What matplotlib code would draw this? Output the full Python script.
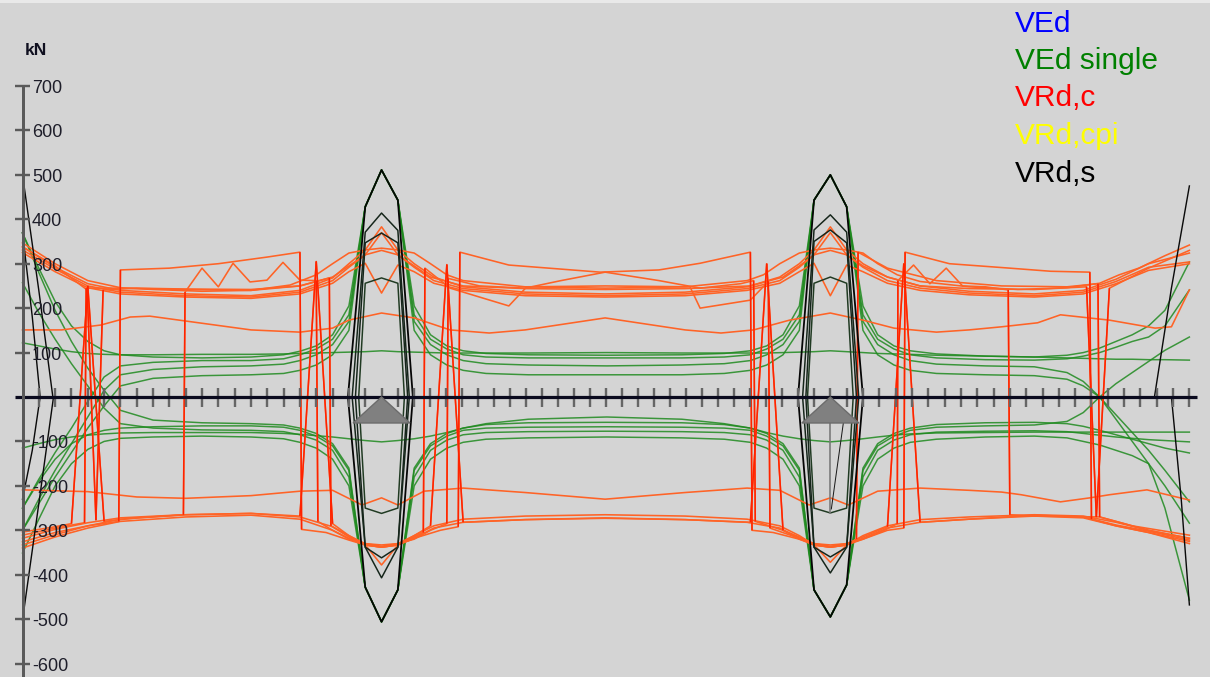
import matplotlib
matplotlib.use("Agg")
import matplotlib.pyplot as plt
from matplotlib.patches import Polygon, Rectangle
from matplotlib.collections import LineCollection

plt.rcParams['font.family'] = ['Liberation Sans', 'DejaVu Sans']

# ---------------- beam geometry (m) ----------------
support_x = [0.0, 11.0, 24.75, 35.75]
elements_per_span = [22, 28, 22]

y_tick_values = [700, 600, 500, 400, 300, 200, 100, -100, -200, -300, -400, -500, -600]
y_unit = "kN"

legend_labels = ["VEd", "VEd single", "VRd,c", "VRd,cpi", "VRd,s"]
legend_colors = ["#0000ff", "#008000", "#ff0000", "#ffff00", "#000000"]

# ---------------- VEd single (kN) at stations ----------------
ved_x = [0, 0.5, 1.0, 1.5, 2.0, 2.5, 3.0, 4.0, 5.5, 7.0, 8.0, 8.5, 9.0, 9.5, 10.0, 10.5,
         11.0, 11.5, 12.0, 12.5, 13.0, 13.5, 14.2, 15.5, 17.9, 20.2, 21.5, 22.3, 22.8,
         23.3, 23.8, 24.25, 24.75, 25.25, 25.75, 26.2, 26.7, 27.2, 28.0, 29.5, 31.0,
         32.0, 32.5, 33.0, 33.5, 34.0, 34.5, 35.0, 35.75]

ved_pos_1 = [369, 290, 215, 160, 125, 104, 95, 90, 88, 90, 95, 103, 115, 140, 205, 428,
             511, 443, 205, 140, 115, 104, 98, 95, 94, 95, 98, 104, 115, 140, 205, 443,
             500, 428, 205, 140, 115, 104, 97, 92, 90, 94, 100, 110, 125, 140, 160, 195, 304]
ved_pos_2 = [-250, -185, -125, -70, -10, 45, 70, 78, 82, 82, 86, 95, 108, 130, 185, 428,
             511, 443, 185, 130, 108, 95, 90, 88, 88, 88, 90, 95, 108, 130, 185, 443,
             500, 428, 185, 130, 108, 95, 88, 84, 83, 86, 92, 100, 112, 125, 135, 160, 241]
ved_pos_3 = [122, 115, 108, 102, 98, 96, 95, 95, 96, 96, 97, 98, 99, 100, 101, 102,
             104, 102, 101, 100, 99, 99, 99, 99, 100, 99, 99, 99, 99, 100, 101, 102,
             104, 102, 100, 98, 97, 96, 94, 92, 90, 88, 87, 86, 85, 85, 84, 84, 83]
ved_pos_4 = [-300, -230, -165, -105, -45, 15, 50, 62, 68, 70, 74, 82, 95, 118, 170, 428,
             511, 443, 170, 118, 95, 82, 75, 72, 70, 72, 75, 82, 95, 118, 170, 443,
             500, 428, 170, 118, 95, 82, 74, 70, 68, 55, 35, 0, -40, -80, -120, -165, -236]
ved_pos_5 = [-300, -240, -180, -125, -70, -20, 25, 42, 48, 50, 53, 60, 72, 95, 150, 428,
             511, 443, 150, 95, 72, 60, 53, 50, 50, 50, 53, 60, 72, 95, 150, 443,
             500, 428, 150, 95, 72, 60, 53, 50, 48, 40, 25, 0, -50, -100, -150, -200, -284]
ved_neg_1 = [-351, -275, -200, -150, -118, -100, -93, -90, -88, -90, -94, -102, -115, -140, -200, -428,
             -506, -434, -200, -140, -115, -102, -95, -92, -90, -92, -95, -102, -115, -140, -200, -434,
             -495, -423, -200, -140, -115, -102, -95, -90, -88, -92, -100, -108, -120, -132, -150, -250, -457]
ved_neg_2 = [-115, -105, -96, -90, -86, -83, -81, -80, -80, -80, -82, -84, -87, -90, -94, -98,
             -101, -98, -94, -88, -80, -70, -60, -50, -45, -50, -60, -70, -80, -88, -94, -98,
             -101, -98, -94, -90, -86, -83, -81, -80, -79, -79, -79, -79, -79, -79, -79, -79, -79]
ved_neg_3 = [257, 190, 130, 75, 25, -25, -60, -70, -74, -75, -78, -85, -97, -120, -180, -428,
             -506, -434, -180, -120, -97, -85, -80, -78, -77, -78, -80, -85, -97, -120, -180, -434,
             -495, -423, -180, -120, -97, -85, -79, -77, -76, -78, -82, -86, -90, -93, -96, -98, -101]
ved_neg_4 = [-250, -190, -140, -105, -85, -75, -70, -67, -65, -65, -68, -75, -88, -110, -165, -428,
             -506, -434, -165, -110, -88, -75, -70, -68, -67, -68, -70, -75, -88, -110, -165, -434,
             -495, -423, -165, -110, -88, -75, -68, -65, -63, -55, -35, 0, 30, 55, 80, 105, 135]
ved_neg_5 = [369, 280, 195, 125, 65, 15, -30, -52, -58, -60, -63, -70, -82, -105, -160, -428,
             -506, -434, -160, -105, -82, -70, -62, -58, -57, -58, -62, -70, -82, -105, -160, -434,
             -495, -423, -160, -105, -82, -70, -62, -58, -57, -60, -66, -75, -85, -95, -105, -115, -126]

# ---------------- VRd,c (kN) ----------------
vrdc_a_x = [0, 1.0, 2.0, 3.0, 4.0, 5.5, 7.0, 8.2, 9.0, 9.5, 10.0, 10.5, 11.0, 11.5, 12.0, 12.5,
            13.0, 13.5, 15.4, 17.85, 20.3, 22.2, 22.7, 23.2, 23.8, 24.25, 24.75, 25.25, 25.75,
            26.2, 26.8, 27.5, 29.0, 30.5, 32.0, 33.0, 33.6, 34.2, 35.0, 35.75]
vrdc_a_v = [347, 300, 262, 246, 242, 238, 240, 252, 275, 300, 324, 331, 335, 331, 324, 300,
            275, 262, 248, 245, 248, 262, 275, 300, 324, 331, 335, 331, 324,
            300, 275, 260, 248, 242, 246, 256, 275, 290, 318, 342]

vrdc_b_x = [0, 1.0, 2.0, 3.0, 5.0, 7.0, 8.5, 9.5, 10.0, 10.5, 11.0, 11.5, 12.0, 12.6, 13.5, 15.4,
            17.85, 20.3, 22.2, 23.2, 23.8, 24.25, 24.75, 25.25, 25.75, 26.5, 27.5, 29.0, 31.0,
            32.5, 33.5, 34.5, 35.75]
vrdc_b_v = [338, 292, 255, 240, 232, 228, 240, 268, 300, 331, 383, 331, 300, 270, 248, 236,
            232, 236, 248, 270, 300, 331, 383, 331, 300, 270, 250, 238, 232,
            240, 265, 300, 324]
vrdc_c_v = [331, 288, 250, 236, 228, 225, 236, 262, 292, 320, 370, 320, 292, 262, 244, 232,
            228, 232, 244, 262, 292, 320, 370, 320, 292, 262, 245, 234, 228,
            236, 260, 292, 304]
vrdc_d_v = [325, 282, 246, 232, 225, 222, 232, 256, 282, 301, 234, 297, 282, 256, 240, 228,
            225, 228, 240, 256, 282, 301, 228, 297, 282, 256, 240, 230, 225,
            232, 255, 285, 300]
vrdc_e_v = [-340, -315, -295, -280, -270, -266, -275, -300, -318, -333, -378, -333, -318, -295, -282, -276,
            -272, -276, -282, -295, -318, -333, -372, -333, -318, -295, -282, -275, -268,
            -272, -290, -305, -330]
vrdc_f_v = [-333, -310, -290, -275, -265, -262, -270, -292, -312, -333, -338, -333, -312, -290, -275, -268,
            -265, -268, -275, -290, -312, -333, -338, -333, -312, -290, -276, -270, -265,
            -268, -282, -300, -318]

vrdc_low_x = [0, 1.2, 2.4, 3.3, 3.9, 5.4, 7.0, 8.5, 9.5, 10.0, 11.0, 12.0, 13.1, 14.3, 15.4, 17.85,
              20.3, 21.4, 22.4, 23.5, 24.75, 25.75, 26.7, 28.0, 29.0, 30.0, 31.1, 31.8, 33.3,
              34.7, 35.2, 35.75]
vrdc_low_v = [151, 151, 162, 180, 182, 167, 151, 146, 155, 173, 189, 178, 151, 144, 151, 178,
              151, 144, 151, 173, 189, 173, 155, 146, 151, 158, 167, 185, 173,
              155, 158, 241]

vrdc_lowneg_x = [0, 2.0, 3.5, 5.0, 7.0, 8.5, 9.5, 10.4, 11.0, 11.5, 12.3, 13.5, 15.4, 17.85, 20.3,
                 22.2, 23.2, 24.1, 24.75, 25.3, 26.2, 27.5, 29.0, 30.0, 30.6, 31.8, 32.7, 33.3,
                 34.45, 35.75]
vrdc_lowneg_v = [-209, -213, -225, -228, -222, -212, -210, -243, -227, -243, -212, -205, -215, -230, -215,
                 -205, -210, -243, -227, -243, -212, -205, -210, -214, -220, -236, -227, -220,
                 -209, -232]

vrdc_j1_x = [0, 1.0, 2.0, 2.95, 3.0, 4.5, 6.0, 7.5, 8.5, 8.55, 9.3, 10.0, 10.5, 11.0, 11.5, 12.0,
             12.8, 13.35, 13.4, 14.9, 17.7, 19.5, 20.76, 22.3, 22.35, 23.0, 23.8, 24.25, 24.75,
             25.25, 25.75, 26.5, 27.0, 27.04, 28.4, 30.25, 31.5, 32.7, 32.75, 33.5, 34.5, 35.75]
vrdc_j1_v = [-326, -305, -290, -280, 286, 290, 300, 315, 326, -298, -305, -322, -333, -338, -333, -318,
             -300, -292, 326, 297, 281, 286, 301, 326, -300, -305, -320, -333, -338,
             -333, -320, -300, -295, 326, 300, 290, 283, 281, -275, -290, -305, -325]

vrdc_j2_x = [0, 1.0, 2.0, 3.0, 4.93, 4.98, 5.5, 6.0, 6.45, 6.97, 7.49, 7.98, 8.5, 9.0, 9.05, 9.5,
             10.0, 10.5, 11.0, 11.5, 12.0, 12.5, 13.0, 13.04, 14.0, 15.4, 16.5, 17.85, 19.5,
             20.76, 22.0, 22.4, 22.45, 23.3, 23.8, 24.25, 24.75, 25.25, 25.75, 26.4, 26.8,
             26.82, 27.3, 27.8, 28.3, 28.8, 29.5, 30.2, 30.25, 31.0, 33.0, 34.5, 35.75]
vrdc_j2_v = [-318, -298, -283, -272, -265, 236, 290, 248, 301, 259, 263, 303, 263, 262, -280, -300,
             -320, -330, -333, -330, -320, -300, -285, 267, 250, 245, 262, 281, 262,
             245, 255, 262, -280, -300, -320, -330, -333, -330, -320, -300, -285,
             262, 297, 255, 290, 250, 248, 241, -265, -268, -270, -300, -318]

vrdc_j3_x = [0, 1.0, 1.9, 1.95, 3.0, 5.0, 7.0, 8.5, 9.4, 9.45, 10.0, 10.5, 11.0, 11.5, 12.0, 12.28,
             12.33, 13.1, 14.9, 15.45, 17.85, 20.45, 20.76, 22.3, 22.85, 22.9, 23.8, 24.25, 24.75,
             25.25, 25.55, 25.6, 26.5, 28.0, 30.0, 32.0, 32.95, 33.0, 34.0, 35.75]
vrdc_j3_v = [-311, -295, -283, 245, 245, 242, 240, 250, 268, -290, -315, -333, -338, -333, -315, -305,
             290, 245, 205, 248, 250, 248, 200, 218, 260, -295, -318, -333, -338,
             -333, -320, 326, 290, 262, 250, 248, 255, -270, -290, -311]

vrdc_j4_x = [0, 1.0, 1.98, 2.25, 2.47, 3.5, 5.0, 7.0, 8.5, 9.5, 10.0, 10.5, 11.0, 11.5, 12.0, 12.5,
             13.5, 15.4, 17.85, 20.3, 22.3, 23.3, 23.8, 24.25, 24.75, 25.25, 25.75, 26.5, 27.5,
             29.0, 31.0, 32.6, 32.9, 33.3, 34.5, 35.75]
vrdc_j4_v = [338, 295, 241, -277, 241, 245, 243, 242, 250, 270, 295, 320, 330, 320, 295, 270,
             250, 244, 242, 244, 250, 270, 295, 320, 330, 320, 295, 270, 250,
             244, 242, 248, -270, 245, 290, 330]

vrdc_j5_x = [0, 1.0, 1.5, 2.0, 2.5, 3.5, 5.0, 7.0, 8.5, 9.0, 9.5, 10.0, 10.5, 11.0, 11.5, 12.0,
             12.5, 13.0, 13.5, 15.4, 17.85, 20.3, 22.3, 22.8, 23.3, 23.8, 24.25, 24.75, 25.25,
             25.75, 26.5, 27.0, 27.5, 29.0, 31.0, 32.5, 33.5, 34.5, 35.75]
vrdc_j5_v = [-304, -292, -285, 250, -280, -272, -265, -262, -268, 305, -285, -312, -330, -336, -330, -312,
             -290, 298, -282, -276, -273, -276, -282, 300, -300, -315, -330, -336, -330,
             -315, -292, 300, -282, -275, -266, -270, -288, -302, -322]

# ---------------- VRd,s (kN) ----------------
vrds_s1_outer_x = [9.97, 10.5, 11.0, 11.5, 11.96]
vrds_s1_outer_pos = [0, 428, 511, 443, 0]
vrds_s1_outer_neg = [0, -428, -506, -434, 0]
vrds_s1_mid_x = [10.1, 10.5, 11.0, 11.5, 11.85]
vrds_s1_mid_pos = [0, 371, 414, 375, 0]
vrds_s1_mid_neg = [0, -338, -407, -338, 0]
vrds_s1_in_x = [10.2, 10.5, 11.0, 11.5, 11.8]
vrds_s1_in_pos = [0, 347, 369, 347, 0]
vrds_s1_in_neg = [0, -338, -362, -338, 0]
vrds_s1_low_x = [10.3, 10.5, 11.0, 11.5, 11.7]
vrds_s1_low_pos = [0, 256, 268, 256, 0]
vrds_s1_low_neg = [0, -250, -262, -250, 0]

vrds_s2_outer_x = [23.76, 24.25, 24.75, 25.25, 25.75]
vrds_s2_outer_pos = [0, 443, 500, 428, 0]
vrds_s2_outer_neg = [0, -434, -495, -423, 0]
vrds_s2_mid_x = [23.9, 24.25, 24.75, 25.25, 25.62]
vrds_s2_mid_pos = [0, 376, 410, 371, 0]
vrds_s2_mid_neg = [0, -338, -396, -338, 0]
vrds_s2_in_x = [24.0, 24.25, 24.75, 25.25, 25.55]
vrds_s2_in_pos = [0, 350, 376, 347, 0]
vrds_s2_in_neg = [0, -338, -360, -338, 0]
vrds_s2_low_x = [24.05, 24.25, 24.75, 25.25, 25.45]
vrds_s2_low_pos = [0, 256, 270, 256, 0]
vrds_s2_low_neg = [0, -250, -261, -250, 0]

vrds_end_a_x = [0, 0.5, 0.93]
vrds_end_a_v = [500, 240, 0]
vrds_end_b_x = [0.95, 0.5, 0]
vrds_end_b_v = [0, -240, -502]
vrds_end_c_x = [0, 0.3, 0.54]
vrds_end_c_v = [370, 180, 0]
vrds_end_d_x = [0.54, 0.3, 0]
vrds_end_d_v = [0, -120, -230]
vrds_end_e_x = [34.68, 35.2, 35.75]
vrds_end_e_v = [0, 245, 475]
vrds_end_f_x = [35.2, 35.5, 35.75]
vrds_end_f_v = [0, -230, -468]

# ---------------- figure / scales ----------------
W, H, DPI = 1210, 677, 100
PX_M = 32.64          # pixels per metre
PX_KN = 0.4443        # pixels per kN
X0_PX, Y0_PX = 22.5, 397.0
PT = 0.72             # points per pixel at 100 dpi

BG = "#d4d4d4"
GREEN = "#1f8a1f"
ORANGE = "#ff6326"
RED = "#ff2200"

fig = plt.figure(figsize=(W / DPI, H / DPI), dpi=DPI, facecolor=BG)
ax = fig.add_axes([0, 0, 1, 1])
ax.set_facecolor(BG)
ax.axis("off")
ax.set_xlim(-X0_PX / PX_M, (W - X0_PX) / PX_M)
ax.set_ylim(-(H - Y0_PX) / PX_KN, Y0_PX / PX_KN)

fig.patches.append(Rectangle((0, 1 - 3 / H), 1, 3 / H, transform=fig.transFigure,
                             facecolor="#e9e9e9", edgecolor="none"))

# VEd single
for series in [ved_pos_1, ved_pos_2, ved_pos_3, ved_pos_4, ved_pos_5,
               ved_neg_1, ved_neg_2, ved_neg_3, ved_neg_4, ved_neg_5]:
    ax.plot(ved_x, series, color=GREEN, lw=1.5 * PT, alpha=0.85, zorder=2)


def draw_vrdc(xs, vs):
    ax.plot(xs, vs, color=ORANGE, lw=1.6 * PT, zorder=3)
    jumps = [[(xs[i], vs[i]), (xs[i + 1], vs[i + 1])] for i in range(len(xs) - 1)
             if vs[i] * vs[i + 1] < 0 and abs(vs[i] - vs[i + 1]) > 300]
    if jumps:
        ax.add_collection(LineCollection(jumps, colors=RED, linewidths=1.5 * PT, zorder=3.5))


draw_vrdc(vrdc_a_x, vrdc_a_v)
for vs in [vrdc_b_v, vrdc_c_v, vrdc_d_v, vrdc_e_v, vrdc_f_v]:
    draw_vrdc(vrdc_b_x, vs)
draw_vrdc(vrdc_low_x, vrdc_low_v)
draw_vrdc(vrdc_lowneg_x, vrdc_lowneg_v)
draw_vrdc(vrdc_j1_x, vrdc_j1_v)
draw_vrdc(vrdc_j2_x, vrdc_j2_v)
draw_vrdc(vrdc_j3_x, vrdc_j3_v)
draw_vrdc(vrdc_j4_x, vrdc_j4_v)
draw_vrdc(vrdc_j5_x, vrdc_j5_v)

# VRd,s
vrds_sets = [
    (vrds_s1_outer_x, [vrds_s1_outer_pos, vrds_s1_outer_neg], "#050505", 1.8),
    (vrds_s1_mid_x, [vrds_s1_mid_pos, vrds_s1_mid_neg], "#15251a", 1.5),
    (vrds_s1_in_x, [vrds_s1_in_pos, vrds_s1_in_neg], "#15251a", 1.5),
    (vrds_s1_low_x, [vrds_s1_low_pos, vrds_s1_low_neg], "#203a22", 1.5),
    (vrds_s2_outer_x, [vrds_s2_outer_pos, vrds_s2_outer_neg], "#050505", 1.8),
    (vrds_s2_mid_x, [vrds_s2_mid_pos, vrds_s2_mid_neg], "#15251a", 1.5),
    (vrds_s2_in_x, [vrds_s2_in_pos, vrds_s2_in_neg], "#15251a", 1.5),
    (vrds_s2_low_x, [vrds_s2_low_pos, vrds_s2_low_neg], "#203a22", 1.5),
]
for xs, series, col, lw in vrds_sets:
    for vs in series:
        ax.plot(xs, vs, color=col, lw=lw * PT, zorder=4)
for xs, vs in [(vrds_end_a_x, vrds_end_a_v), (vrds_end_b_x, vrds_end_b_v),
               (vrds_end_c_x, vrds_end_c_v), (vrds_end_d_x, vrds_end_d_v),
               (vrds_end_e_x, vrds_end_e_v), (vrds_end_f_x, vrds_end_f_v)]:
    ax.plot(xs, vs, color="#0a0a0a", lw=1.4 * PT, zorder=4)

# beam axis with element ticks
node_x = []
for s, n in enumerate(elements_per_span):
    a, b = support_x[s], support_x[s + 1]
    node_x += [a + (b - a) * k / n for k in range(1, n + 1)]
tick_half = 9.5 / PX_KN
for xn in node_x:
    ax.plot([xn, xn], [-tick_half, tick_half], color="#666666", lw=2.4 * PT,
            solid_capstyle="butt", zorder=5)
ax.plot([-7.5 / PX_M, (1197 - X0_PX) / PX_M], [0, 0], color="#0a0a1e", lw=3.2 * PT,
        solid_capstyle="butt", zorder=6)

# supports
tri_w, tri_h = 28.5 / PX_M, 26 / PX_KN
for s in support_x[1:3]:
    ax.add_patch(Polygon([(s, 0), (s - tri_w, -tri_h), (s + tri_w, -tri_h)], closed=True,
                         facecolor="#808080", edgecolor="#6c6c6c", lw=1, zorder=7))
ax.plot([support_x[2], support_x[2]], [-tri_h, -261], color="#777777", lw=1.6 * PT, zorder=4)
ax.plot([support_x[2] + 13 / PX_M, support_x[2] + 1 / PX_M], [-tri_h, -252], color="#1a1a1a",
        lw=1.0 * PT, zorder=4)

# vertical value axis
ax.plot([0, 0], [-(H - Y0_PX) / PX_KN, 700], color="#5a5a5a", lw=3 * PT, zorder=6)
for v in y_tick_values:
    ax.plot([-7.5 / PX_M, 7.5 / PX_M], [v, v], color="#5a5a5a", lw=2.4 * PT,
            solid_capstyle="butt", zorder=6)
    ax.text(9.5 / PX_M, v - 7 / PX_KN, f"{v}", ha="left", va="baseline", fontsize=13,
            color="#1e1e2a", zorder=8)
fig.text(25 / W, 1 - 55 / H, y_unit, fontsize=12.5, fontweight="bold", ha="left",
         va="baseline", color="#101020")

# legend
for i, (lab, col) in enumerate(zip(legend_labels, legend_colors)):
    fig.text(1015 / W, 1 - (31.5 + 37.5 * i) / H, lab, fontsize=21.5, color=col,
             ha="left", va="baseline")

fig.savefig("out.png", dpi=DPI, facecolor=BG)
